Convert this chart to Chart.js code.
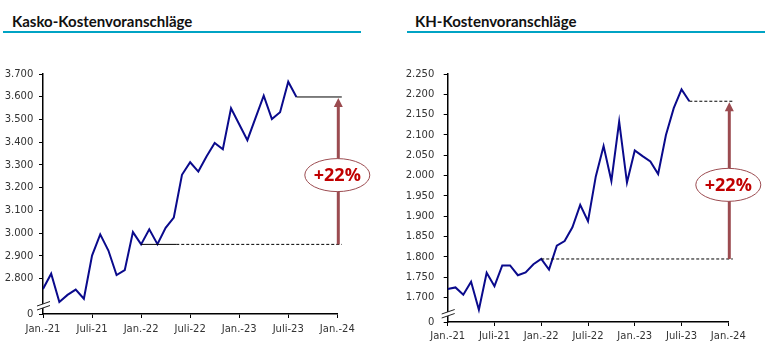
<!DOCTYPE html>
<html>
<head>
<meta charset="utf-8">
<script src="https://cdn.jsdelivr.net/npm/chart.js@4"></script>
<style>
    body { margin: 0; background: #fff; }
    #wrap { position: relative; width: 765px; height: 354px; overflow: hidden; }
    .title {
        position: absolute; top: 12px;
        font-family: Lato, sans-serif; font-weight: 700; font-size: 15px; color: #111;
    }
    .rule { position: absolute; top: 31px; height: 2px; background: #00a3c4; }
    canvas { position: absolute; top: 40px; }
</style>
</head>
<body>
<div id="wrap">
    <div class="title" style="left:12px">Kasko-Kostenvoranschläge</div>
    <div class="rule" style="left:3px;width:358px"></div>
    <div class="title" style="left:415px">KH-Kostenvoranschläge</div>
    <div class="rule" style="left:407px;width:358px"></div>
    <canvas id="kaskoChart" width="380" height="314" style="left:0px"></canvas>
    <canvas id="khChart" width="380" height="314" style="left:385px"></canvas>
</div>
<script>
// Monthly values Jan-21 .. Aug-23
const kaskoValues = [2755, 2822, 2698, 2729, 2752, 2712, 2902, 2995, 2924, 2816, 2838, 3005,
                     2951, 3017, 2952, 3024, 3069, 3257, 3312, 3271, 3337, 3397, 3369, 3549,
                     3479, 3409, 3507, 3605, 3502, 3532, 3666, 3599];
const khValues = [1721, 1725, 1707, 1739, 1670, 1761, 1728, 1779, 1779, 1755, 1762, 1782,
                  1795, 1769, 1828, 1839, 1873, 1928, 1888, 1998, 2073, 1987, 2133, 1983,
                  2062, 2048, 2035, 2004, 2100, 2166, 2212, 2183];

// x tick labels every 6 months (month index 0 = Jan-21)
const xTickLabels = ['Jan.-21', 'Juli-21', 'Jan.-22', 'Juli-22', 'Jan.-23', 'Juli-23', 'Jan.-24'];

// y ticks (the lowest tick is drawn as "0" below the axis break)
const kaskoTicks = [2800, 2900, 3000, 3100, 3200, 3300, 3400, 3500, 3600, 3700];
const khTicks = [1700, 1750, 1800, 1850, 1900, 1950, 2000, 2050, 2100, 2150, 2200, 2250];

const changeLabel = '+22%';
const baseIndex = 12; // Jan-22

const lineColor = '#0a0a8c';
const arrowColor = '#9b4b50';

// Function to format numbers with German thousands separator
function formatNumber(v) {
    return String(v).replace(/\B(?=(\d{3})+(?!\d))/g, '.');
}

// Plugin to draw axis break, reference lines, arrow and the percentage label
function makeAnnotation(cfg) {
    return {
        id: 'annotation',
        afterDraw(chart) {
            const ctx = chart.ctx;
            const x = chart.scales.x;
            const y = chart.scales.y;
            const values = chart.data.datasets[0].data;
            const baseVal = values[baseIndex].y;
            const topVal = values[values.length - 1].y;
            const yBase = y.getPixelForValue(baseVal);
            const yTop = y.getPixelForValue(topVal);
            const xEnd = x.getPixelForValue(36) + 4.5;
            const xArrow = x.getPixelForValue(36) + 1;
            ctx.save();

            // axis break
            const ax = chart.chartArea.left;
            const ab = chart.chartArea.bottom;
            ctx.fillStyle = '#fff';
            ctx.beginPath();
            ctx.moveTo(ax - 6, ab - 8);
            ctx.lineTo(ax + 7, ab - 12.5);
            ctx.lineTo(ax + 7, ab - 8.5);
            ctx.lineTo(ax - 6, ab - 4);
            ctx.closePath();
            ctx.fill();
            ctx.strokeStyle = '#222';
            ctx.lineWidth = 1;
            [[-8, -12.5], [-4, -8.5]].forEach(p => {
                ctx.beginPath();
                ctx.moveTo(ax - 6, ab + p[0]);
                ctx.lineTo(ax + 7, ab + p[1]);
                ctx.stroke();
            });

            // base line (solid part then dashed)
            ctx.strokeStyle = '#000';
            ctx.lineWidth = 1;
            const xBase = x.getPixelForValue(baseIndex);
            const xSolid = x.getPixelForValue(cfg.baseSolidTo);
            ctx.beginPath();
            ctx.moveTo(xBase, yBase);
            ctx.lineTo(xSolid, yBase);
            ctx.stroke();
            ctx.setLineDash([3, 2]);
            ctx.beginPath();
            ctx.moveTo(xSolid, yBase);
            ctx.lineTo(xEnd, yBase);
            ctx.stroke();

            // top line
            ctx.setLineDash(cfg.topDashed ? [3, 2] : []);
            ctx.beginPath();
            ctx.moveTo(x.getPixelForValue(values.length - 1), yTop);
            ctx.lineTo(xEnd, yTop);
            ctx.stroke();
            ctx.setLineDash([]);

            // arrow
            ctx.strokeStyle = arrowColor;
            ctx.fillStyle = arrowColor;
            ctx.lineWidth = 3;
            ctx.beginPath();
            ctx.moveTo(xArrow, yBase);
            ctx.lineTo(xArrow, yTop + 8);
            ctx.stroke();
            ctx.beginPath();
            ctx.moveTo(xArrow, yTop + 1);
            ctx.lineTo(xArrow - 4.5, yTop + 10);
            ctx.lineTo(xArrow + 4.5, yTop + 10);
            ctx.closePath();
            ctx.fill();

            // ellipse with label
            const cx = x.getPixelForValue(36);
            const cy = yTop + 0.53 * (yBase - yTop);
            ctx.lineWidth = 1;
            ctx.fillStyle = '#fff';
            ctx.beginPath();
            ctx.ellipse(cx, cy, 32.5, 16.5, 0, 0, Math.PI * 2);
            ctx.fill();
            ctx.stroke();
            ctx.fillStyle = '#c00000';
            ctx.font = 'bold 18px "Open Sans", sans-serif';
            ctx.textAlign = 'center';
            ctx.textBaseline = 'middle';
            ctx.fillText(changeLabel, cx, cy + 1);
            ctx.restore();
        }
    };
}

// Function to create one line chart
function createChart(canvasId, values, tickValues, area, cfg) {
    const canvas = document.getElementById(canvasId);
    const yMin = cfg.yMin;
    const tickFont = { family: '"DejaVu Sans", sans-serif', size: 10 };
    return new Chart(canvas.getContext('2d'), {
        type: 'line',
        data: {
            datasets: [{
                data: values.map((v, i) => ({ x: i, y: v })),
                borderColor: lineColor,
                borderWidth: 2,
                pointRadius: 0,
                tension: 0
            }]
        },
        options: {
            responsive: false,
            animation: false,
            plugins: { legend: { display: false }, tooltip: { enabled: false } },
            layout: { padding: { top: area.top, right: canvas.width - area.right, left: 0, bottom: 0 } },
            scales: {
                x: {
                    type: 'linear',
                    min: 0,
                    max: 36,
                    afterBuildTicks: scale => {
                        scale.ticks = xTickLabels.map((l, i) => ({ value: i * 6 }));
                    },
                    afterFit: scale => { scale.height = canvas.height - area.bottom; },
                    border: { display: true, color: '#000', width: 1.5 },
                    grid: { display: true, drawOnChartArea: false, drawTicks: true, tickLength: 4, color: '#000' },
                    ticks: {
                        autoSkip: false,
                        maxRotation: 0,
                        padding: cfg.xPad,
                        color: '#333',
                        font: tickFont,
                        callback: value => xTickLabels[value / 6]
                    }
                },
                y: {
                    min: yMin,
                    max: tickValues[tickValues.length - 1],
                    afterBuildTicks: scale => {
                        scale.ticks = [yMin].concat(tickValues).map(v => ({ value: v }));
                    },
                    afterFit: scale => { scale.width = area.left; },
                    border: { display: true, color: '#000', width: 1.5 },
                    grid: { display: true, drawOnChartArea: false, drawTicks: true, tickLength: 4, color: '#000' },
                    ticks: {
                        padding: cfg.yPad,
                        color: '#333',
                        font: tickFont,
                        callback: value => value === yMin ? '0' : formatNumber(value)
                    }
                }
            }
        },
        plugins: [makeAnnotation(cfg)]
    });
}

createChart('kaskoChart', kaskoValues, kaskoTicks,
    { left: 43, right: 337.3, top: 34, bottom: 274 },
    { yMin: 2645, xPad: 5, yPad: 5.7, baseSolidTo: 16.3, topDashed: false });

createChart('khChart', khValues, khTicks,
    { left: 62.7, right: 343.3, top: 34, bottom: 282 },
    { yMin: 1640, xPad: 4, yPad: 9.4, baseSolidTo: 12, topDashed: true });
</script>
</body>
</html>
